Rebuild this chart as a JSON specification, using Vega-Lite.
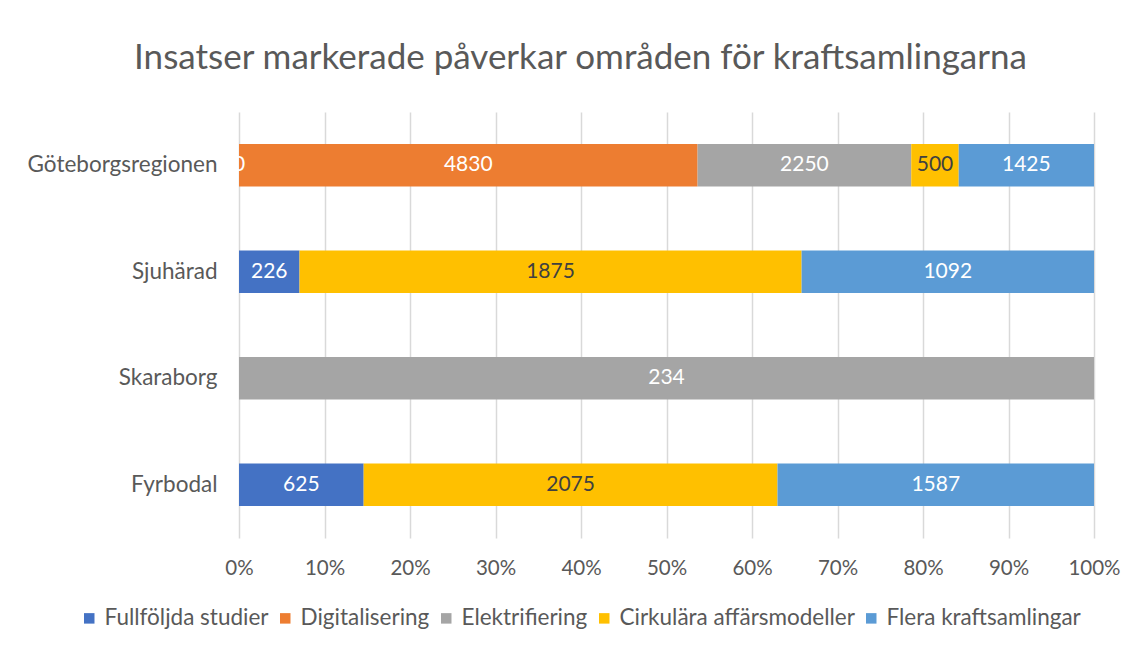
{
  "$schema": "https://vega.github.io/schema/vega-lite/v6.json",
  "width": 855,
  "height": 426,
  "autosize": {"type": "none"},
  "padding": {"left": 239, "top": 112, "right": 41, "bottom": 112},
  "background": "white",
  "config": {"view": {"stroke": null}, "font": "Lato"},
  "title": {
    "text": "Insatser markerade påverkar områden för kraftsamlingarna",
    "fontSize": 35,
    "font": "Lato",
    "fontWeight": "normal",
    "color": "#595959",
    "anchor": "middle",
    "dx": -86,
    "offset": 36
  },
  "data": {
    "values": [
      {"region": "Göteborgsregionen", "kategori": "Fullföljda studier", "ord": 1, "value": 0},
      {"region": "Göteborgsregionen", "kategori": "Digitalisering", "ord": 2, "value": 4830},
      {"region": "Göteborgsregionen", "kategori": "Elektrifiering", "ord": 3, "value": 2250},
      {"region": "Göteborgsregionen", "kategori": "Cirkulära affärsmodeller", "ord": 4, "value": 500},
      {"region": "Göteborgsregionen", "kategori": "Flera kraftsamlingar", "ord": 5, "value": 1425},
      {"region": "Sjuhärad", "kategori": "Fullföljda studier", "ord": 1, "value": 226},
      {"region": "Sjuhärad", "kategori": "Cirkulära affärsmodeller", "ord": 4, "value": 1875},
      {"region": "Sjuhärad", "kategori": "Flera kraftsamlingar", "ord": 5, "value": 1092},
      {"region": "Skaraborg", "kategori": "Elektrifiering", "ord": 3, "value": 234},
      {"region": "Fyrbodal", "kategori": "Fullföljda studier", "ord": 1, "value": 625},
      {"region": "Fyrbodal", "kategori": "Cirkulära affärsmodeller", "ord": 4, "value": 2075},
      {"region": "Fyrbodal", "kategori": "Flera kraftsamlingar", "ord": 5, "value": 1587}
    ]
  },
  "transform": [
    {"stack": "value", "groupby": ["region"], "sort": [{"field": "ord", "order": "ascending"}], "as": ["x0", "x1"], "offset": "normalize"},
    {"calculate": "(datum.x0 + datum.x1) / 2", "as": "mid"}
  ],
  "encoding": {
    "y": {
      "field": "region",
      "type": "nominal",
      "sort": ["Göteborgsregionen", "Sjuhärad", "Skaraborg", "Fyrbodal"],
      "scale": {"paddingInner": 0.6, "paddingOuter": 0.3},
      "axis": {
        "title": null,
        "domain": false,
        "ticks": false,
        "labelFontSize": 22.5,
        "labelColor": "#595959",
        "labelPadding": 22,
        "labelFont": "Lato",
        "labelLimit": 0
      }
    }
  },
  "layer": [
    {
      "mark": {"type": "bar"},
      "encoding": {
        "x": {
          "field": "x0",
          "type": "quantitative",
          "scale": {"domain": [0, 1], "nice": false},
          "axis": {
            "title": null,
            "format": ".0%",
            "values": [0, 0.1, 0.2, 0.3, 0.4, 0.5, 0.6, 0.7, 0.8, 0.9, 1],
            "domain": false,
            "ticks": false,
            "grid": true,
            "gridColor": "#D9D9D9",
            "gridWidth": 1.5,
            "labelFontSize": 20.5,
            "labelColor": "#595959",
            "labelPadding": 20,
            "labelFont": "Lato",
            "labelFlush": false,
            "labelOverlap": false
          }
        },
        "x2": {"field": "x1"},
        "color": {
          "field": "kategori",
          "type": "nominal",
          "sort": ["Fullföljda studier", "Digitalisering", "Elektrifiering", "Cirkulära affärsmodeller", "Flera kraftsamlingar"],
          "scale": {
            "domain": ["Fullföljda studier", "Digitalisering", "Elektrifiering", "Cirkulära affärsmodeller", "Flera kraftsamlingar"],
            "range": ["#4472C4", "#ED7D31", "#A5A5A5", "#FFC000", "#5B9BD5"]
          },
          "legend": {
            "title": null,
            "orient": "none",
            "direction": "horizontal",
            "legendX": -161,
            "legendY": 495,
            "symbolType": "square",
            "symbolSize": 110,
            "symbolStrokeWidth": 0,
            "labelFontSize": 22.5,
            "labelColor": "#595959",
            "labelFont": "Lato",
            "labelLimit": 0,
            "columnPadding": 5,
            "labelOffset": 4
          }
        }
      }
    },
    {
      "mark": {"type": "text", "fontSize": 21, "font": "Lato", "baseline": "middle", "align": "center"},
      "encoding": {
        "x": {"field": "mid", "type": "quantitative"},
        "text": {"field": "value", "type": "quantitative", "format": "d"},
        "color": {
          "condition": {"test": "datum.kategori === 'Cirkulära affärsmodeller'", "value": "#404040"},
          "value": "#FFFFFF"
        }
      }
    }
  ]
}
